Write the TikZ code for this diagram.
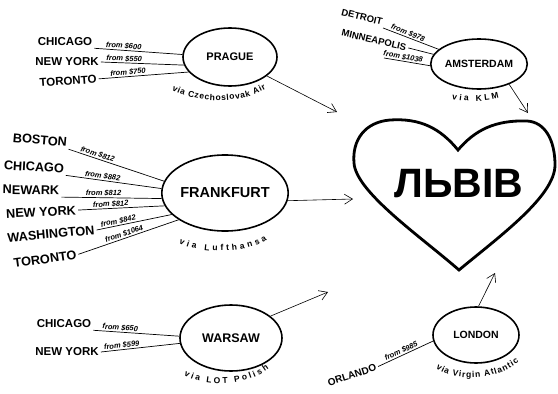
\documentclass[tikz,border=0pt]{standalone}
\usepackage{fontspec}
\setmainfont{Liberation Sans}
\usetikzlibrary{shapes.geometric,arrows.meta,decorations.text}
\newcommand{\viafont}{\fontsize{8.5}{9}\selectfont\bfseries}
\begin{document}
\begin{tikzpicture}[x=1pt,y=-1pt,
  hub/.style={draw, ellipse, line width=1.6pt, inner sep=0pt},
  src/.style={inner sep=2pt, font=\fontsize{#1}{#1}\selectfont\bfseries},
  src/.default=11.5,
  feed/.style={line width=0.7pt},
  price/.style={above, sloped, pos=0.33, inner sep=1pt, font=\fontsize{7.5}{8}\selectfont\bfseries\itshape},
  fly/.style={line width=0.6pt, -{Straight Barb[length=8pt,width=10pt]}},
  via/.style={decorate, decoration={text along path, text align=fit to path, text={|\viafont|#1}}}]
\useasboundingbox (0,0) rectangle (558,394);
\node[hub, minimum width=94, minimum height=58, font=\fontsize{11}{12}\selectfont\bfseries] (pr) at (230,57) {PRAGUE};
\node[hub, minimum width=86, minimum height=50, font=\fontsize{10.5}{12}\selectfont\bfseries] (am) at (479,64) {AMSTERDAM};
\node[hub, minimum width=114, minimum height=76, font=\fontsize{14.5}{16}\selectfont\bfseries] (fr) at (225,193) {FRANKFURT};
\node[hub, minimum width=102, minimum height=66, font=\fontsize{12.5}{14}\selectfont\bfseries] (wa) at (231,338) {WARSAW};
\node[hub, minimum width=86, minimum height=56, font=\fontsize{10.5}{12}\selectfont\bfseries] (lo) at (476,335) {LONDON};
\node[font=\fontsize{41}{41}\selectfont\bfseries] (lviv) at (459,184) {ЛЬВІВ};
\draw[line width=2.8pt] (458,150) .. controls (440,128) and (420,118) .. (390,120)
  .. controls (365,122) and (352,140) .. (354,163)
  .. controls (356,192) and (420,236) .. (459,270)
  .. controls (500,236) and (555,196) .. (555,165)
  .. controls (555,140) and (545,122) .. (527,121)
  .. controls (495,120) and (475,130) .. (458,150) -- cycle;
\node[src] (pr1) at (65,42) {CHICAGO};
\node[src] (pr2) at (67,62) {NEW YORK};
\node[src, rotate=4] (pr3) at (68,81) {TORONTO};
\draw[feed] (pr1.south east) -- node[price] {from \$600} (pr.177);
\draw[feed] (pr2.east) -- node[price, pos=0.28] {from \$550} (pr.190);
\draw[feed] (pr3.east) -- node[price] {from \$750} (pr.200);
\node[src=9.5, rotate=-14] (am1) at (362,17) {DETROIT};
\node[src=9.5, rotate=-13] (am2) at (374,40) {MINNEAPOLIS};
\coordinate (am3) at (384,58);
\draw[feed] (am1.south east) -- node[price, pos=0.42] {from \$978} (am.160);
\draw[feed] (am2.east) -- (am.168);
\draw[feed] (am3) -- node[price, pos=0.4] {from \$1038} (am.182);
\node[src=12.7, rotate=-5] (fr1) at (40,140) {BOSTON};
\node[src=12.7, rotate=-3] (fr2) at (34,167) {CHICAGO};
\node[src=12.7, rotate=-1] (fr3) at (31,190) {NEWARK};
\node[src=12.7, rotate=3] (fr4) at (41,212) {NEW YORK};
\node[src=12.7, rotate=5] (fr5) at (51,234) {WASHINGTON};
\node[src=12.7, rotate=8] (fr6) at (45,259) {TORONTO};
\draw[feed] (fr1.south east) -- node[price, pos=0.29] {from \$812} (fr.169);
\draw[feed] (fr2.south east) -- node[price, pos=0.38] {from \$882} (fr.176);
\draw[feed] (fr3.south east) -- node[price, pos=0.42] {from \$812} (fr.185);
\draw[feed] (fr4.east) -- node[price, pos=0.38] {from \$812} (fr.192);
\draw[feed] (fr5.east) -- node[price, pos=0.3] {from \$842} (fr.202);
\draw[feed] (fr6.east) -- node[price, pos=0.47] {from \$1064} (fr.210);
\node[src] (wa1) at (64,324) {CHICAGO};
\node[src] (wa2) at (67,352) {NEW YORK};
\draw[feed] (wa1.south east) -- node[price, pos=0.31] {from \$650} (wa.178);
\draw[feed] (wa2.east) -- node[price, pos=0.27] {from \$599} (wa.186);
\node[src=10, rotate=18] (lo1) at (352,375) {ORLANDO};
\draw[feed] (lo1.east) -- node[price, pos=0.45] {from \$985} (lo.188);
\path[via={via Czechoslovak Air}] (172,90) .. controls (200,104) and (240,104) .. (266,89);
\path[via={via KLM}] (452,99) .. controls (467,102) and (485,102) .. (499,98);
\path[via={via Lufthansa}] (179,243) .. controls (200,254) and (245,254) .. (267,240);
\path[via={via LOT Polish}] (184,375) .. controls (205,387) and (245,387) .. (269,369);
\path[via={via Virgin Atlantic}] (436,368) .. controls (455,382) and (495,381) .. (519,362);
\coordinate (h1) at (337,112);
\coordinate (h2) at (528,113);
\coordinate (h3) at (353,199);
\coordinate (h4) at (328,292);
\coordinate (h5) at (495,273);
\draw[fly] (pr) -- (h1);
\draw[fly] (am.-34) -- (h2);
\draw[fly] (fr.-7) -- (h3);
\draw[fly] (wa.29) -- (h4);
\draw[fly] (lo.85) -- (h5);
\end{tikzpicture}
\end{document}
